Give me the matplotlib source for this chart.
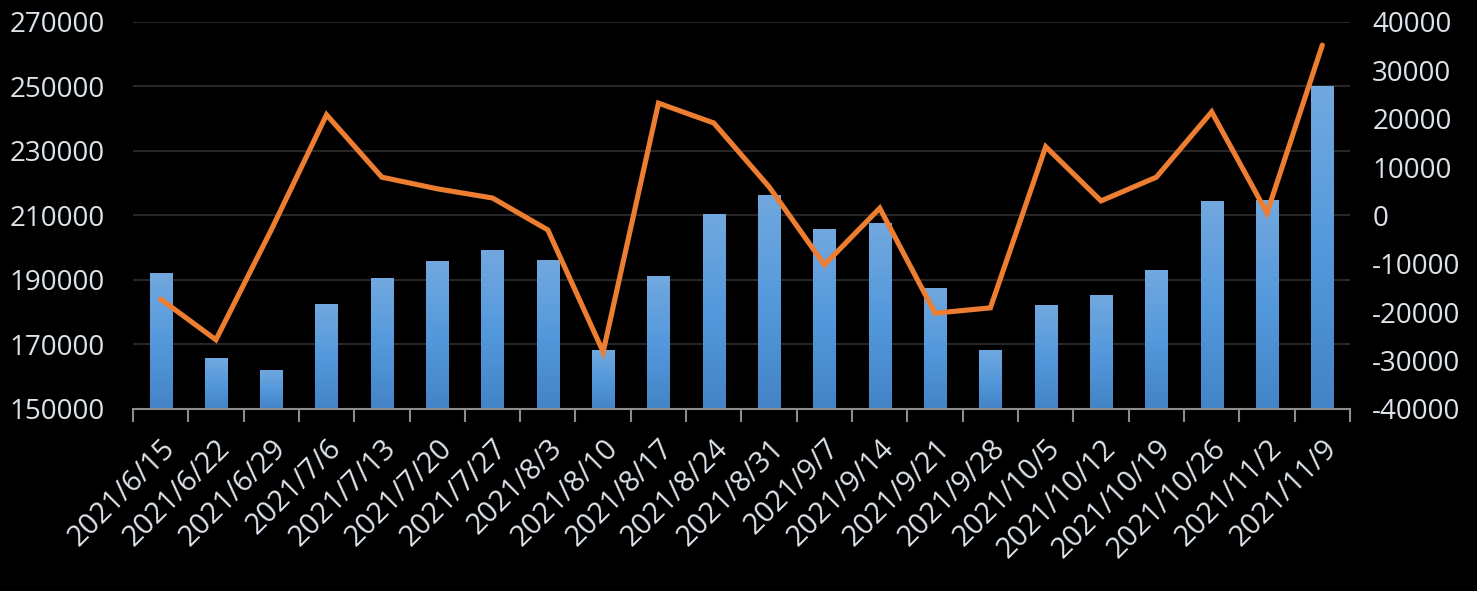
import numpy as np
import matplotlib
matplotlib.use("Agg")
import matplotlib.pyplot as plt
from matplotlib.colors import LinearSegmentedColormap

dates = ["2021/6/15", "2021/6/22", "2021/6/29", "2021/7/6", "2021/7/13", "2021/7/20",
         "2021/7/27", "2021/8/3", "2021/8/10", "2021/8/17", "2021/8/24", "2021/8/31",
         "2021/9/7", "2021/9/14", "2021/9/21", "2021/9/28", "2021/10/5", "2021/10/12",
         "2021/10/19", "2021/10/26", "2021/11/2", "2021/11/9"]
bar_values = [192000, 165800, 162100, 182600, 190600, 195900, 199300, 196200, 168300,
              191200, 210500, 216400, 205800, 207700, 187500, 168300, 182200, 185300,
              193100, 214500, 214800, 250200]
line_values = [-17300, -25700, -3000, 20800, 7900, 5500, 3600, -3000, -28200, 23200,
               19100, 5900, -10200, 1500, -20200, -19100, 14200, 3000, 7900, 21400,
               500, 35200]
left_ticks = [150000, 170000, 190000, 210000, 230000, 250000, 270000]
right_ticks = [-40000, -30000, -20000, -10000, 0, 10000, 20000, 30000, 40000]

plt.rcParams['font.family'] = ['Open Sans', 'DejaVu Sans']
TXT = '#dde3ea'

fig = plt.figure(figsize=(14.77, 5.91), dpi=100, facecolor='black')
ax = fig.add_axes([0.090, 0.308, 0.824, 0.655])
ax.set_facecolor('black')
x = np.arange(len(dates))

cmap = LinearSegmentedColormap.from_list('bar', ['#4384c6', '#5499dc', '#72a8df'])
grad = np.linspace(0, 1, 256).reshape(-1, 1)
bars = ax.bar(x, [v - left_ticks[0] for v in bar_values], bottom=left_ticks[0],
              width=0.4, color='#5499dc', zorder=2)
for b in bars:
    x0, y0 = b.get_x(), b.get_y()
    w, h = b.get_width(), b.get_height()
    im = ax.imshow(grad, extent=[x0, x0 + w, y0, y0 + h], origin='lower',
                   cmap=cmap, aspect='auto', zorder=2.1)
    im.set_clip_path(b)

ax.set_xlim(-0.5, len(dates) - 0.5)
ax.set_ylim(left_ticks[0], left_ticks[-1])
ax.set_yticks(left_ticks)
ax.set_yticklabels([str(t) for t in left_ticks])
ax.grid(axis='y', color='#262626', linewidth=1.5, zorder=0)
ax.set_axisbelow(True)
for s in ['top', 'right', 'left']:
    ax.spines[s].set_visible(False)
ax.spines['bottom'].set_color('#8c8c8c')
ax.spines['bottom'].set_linewidth(1.5)
ax.tick_params(axis='y', length=0, labelsize=20, labelcolor=TXT, pad=20)

ax.set_xticks(np.arange(len(dates) + 1) - 0.5, minor=False)
ax.set_xticklabels([''] * (len(dates) + 1))
ax.tick_params(axis='x', which='major', length=9, width=1.5, color='#8c8c8c', direction='out')
ax.set_xticks(x, minor=True)
ax.set_xticklabels(dates, minor=True, rotation=45, ha='right', va='top',
                   rotation_mode='anchor', fontsize=21, color=TXT)
ax.tick_params(axis='x', which='minor', length=0, pad=18)

ax2 = ax.twinx()
ax2.plot(x, line_values, color='#ed7d31', linewidth=3.7, solid_capstyle='round',
         solid_joinstyle='miter', zorder=5)
ax2.set_ylim(right_ticks[0], right_ticks[-1])
ax2.set_yticks(right_ticks)
ax2.set_yticklabels([str(t) for t in right_ticks])
ax2.tick_params(axis='y', length=0, labelsize=20, labelcolor=TXT, pad=16)
for s in ax2.spines.values():
    s.set_visible(False)

fig.savefig('out.png', dpi=100, facecolor='black')
